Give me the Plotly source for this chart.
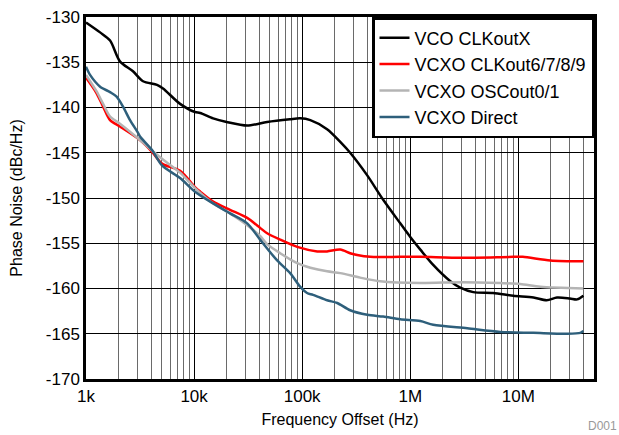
import plotly.graph_objects as go

# ---- data ----
vco_f = [1000, 1350, 1670, 2060, 2720, 3370, 4540, 5160, 7420, 10200, 11400, 15000, 20000, 31000,
         47400, 77000, 96000, 119000, 170000, 225000, 278000, 400000, 562000, 808000, 1000000,
         1240000, 1630000, 2350000, 2900000, 3830000, 5840000, 9000000, 13800000, 18300000,
         22800000, 30000000, 35000000, 40000000]
vco_v = [-130.6, -131.7, -132.6, -134.9, -136.0, -137.1, -137.5, -137.9, -139.6, -140.5, -140.6,
         -141.2, -141.6, -142.0, -141.6, -141.3, -141.2, -141.4, -142.4, -143.8, -145.0, -147.5,
         -150.2, -152.8, -154.3, -155.7, -157.4, -159.2, -159.9, -160.4, -160.5, -160.8, -161.0,
         -161.3, -161.0, -161.1, -161.2, -160.8]

clk_f = [1000, 1250, 1440, 1670, 2060, 3160, 4080, 5050, 7420, 10200, 11400, 15000, 21500, 31000,
         40800, 47400, 62600, 90000, 138000, 170000, 225000, 278000, 323000, 426000, 808000,
         1240000, 3000000, 9000000, 11000000, 19800000, 40000000]
clk_v = [-136.7, -138.4, -139.9, -141.4, -142.1, -143.6, -144.9, -146.2, -147.0, -148.8, -149.3,
         -150.4, -151.3, -152.2, -153.3, -153.9, -154.6, -155.4, -155.9, -155.9, -155.7, -156.1,
         -156.3, -156.5, -156.5, -156.5, -156.6, -156.5, -156.5, -156.9, -157.0]

osc_f = [1000, 1250, 1440, 1670, 2060, 3160, 4840, 7420, 10200, 15000, 21500, 31000, 40800, 47400,
         62600, 90000, 119000, 170000, 225000, 344000, 527000, 1240000, 3000000, 6800000,
         10400000, 16000000, 40000000]
osc_v = [-136.4, -138.2, -139.6, -141.0, -141.8, -143.6, -145.5, -147.2, -148.9, -150.6, -151.7,
         -153.0, -154.2, -155.1, -156.1, -157.2, -157.7, -158.1, -158.3, -158.8, -159.2, -159.4,
         -159.3, -159.4, -159.5, -159.8, -160.0]

dir_f = [1000, 1090, 1350, 1670, 1920, 2200, 2555, 3030, 3160, 4080, 5050, 7420, 10200, 15000,
         21500, 31000, 40800, 58700, 77400, 95800, 111000, 126000, 170000, 211000, 278000, 400000,
         562000, 808000, 1240000, 1630000, 3370000, 6800000, 13800000, 28000000, 37500000, 40000000]
dir_v = [-135.5, -136.4, -137.7, -138.3, -138.8, -139.9, -141.4, -142.8, -143.2, -144.7, -146.4,
         -147.8, -149.3, -150.6, -151.7, -152.8, -154.6, -156.9, -158.3, -159.8, -160.5, -160.7,
         -161.3, -161.6, -162.4, -162.9, -163.1, -163.4, -163.6, -164.0, -164.4, -164.8, -164.9,
         -165.0, -164.9, -164.7]

series_names = ["VCO CLKoutX", "VCXO CLKout6/7/8/9", "VCXO OSCout0/1", "VCXO Direct"]
series_colors = ["#000000", "#ff0000", "#b4b4b4", "#2e5f7b"]

x_tickvals = [1e3, 1e4, 1e5, 1e6, 1e7]
x_ticktext = ["1k", "10k", "100k", "1M", "10M"]
y_tickvals = [-130, -135, -140, -145, -150, -155, -160, -165, -170]
y_ticktext = ["-130", "-135", "-140", "-145", "-150", "-155", "-160", "-165", "-170"]

minor_x = [m * 10 ** e for e in range(3, 8) for m in range(2, 10) if m * 10 ** e <= 5e7]

fig = go.Figure()
for f, v, name, col in zip([vco_f, clk_f, osc_f, dir_f], [vco_v, clk_v, osc_v, dir_v],
                           series_names, series_colors):
    fig.add_trace(go.Scatter(x=f, y=v, mode="lines", name=name,
                             line=dict(color=col, width=2.5, shape="spline", smoothing=0.8)))

FONT = "Liberation Sans, Arial, sans-serif"
fig.update_layout(
    width=619, height=435,
    margin=dict(l=86, r=25, t=17, b=56, autoexpand=False),
    paper_bgcolor="white", plot_bgcolor="white",
    font=dict(family=FONT, size=16, color="#000"),
    showlegend=True,
    legend=dict(x=1, y=1, xanchor="right", yanchor="top",
                bgcolor="white", bordercolor="black", borderwidth=2.5,
                font=dict(size=18, family=FONT), tracegroupgap=0),
    annotations=[dict(text="D001", x=(619 - 86) / 508, y=(379 - 435) / 362, xref="paper",
                      yref="paper", xanchor="right", yanchor="bottom", showarrow=False,
                      font=dict(size=12, color="#999999", family=FONT))],
)
fig.update_xaxes(type="log", range=[3, 7.7], automargin=False,
                 tickvals=x_tickvals, ticktext=x_ticktext,
                 showgrid=True, gridcolor="#000", gridwidth=1,
                 minor=dict(tickvals=minor_x, showgrid=True, gridcolor="#6a6a6a", gridwidth=1.3,
                            ticks=""),
                 showline=True, linecolor="#000", linewidth=2.5, mirror=True,
                 ticks="", tickfont=dict(size=17),
                 title=dict(text="Frequency Offset (Hz)", font=dict(size=16), standoff=9),
                 zeroline=False)
fig.update_yaxes(range=[-170, -130], automargin=False,
                 tickvals=y_tickvals, ticktext=y_ticktext,
                 showgrid=True, gridcolor="#000", gridwidth=1,
                 showline=True, linecolor="#000", linewidth=2.5, mirror=True,
                 ticks="", tickfont=dict(size=17),
                 title=dict(text="Phase Noise (dBc/Hz)", font=dict(size=16), standoff=20),
                 zeroline=False)

# remove the browser's default 8px body margin so the figure fills the window exactly
fig.write_html("out.html", config={"displayModeBar": False},
               post_script="document.body.style.margin='0';")
